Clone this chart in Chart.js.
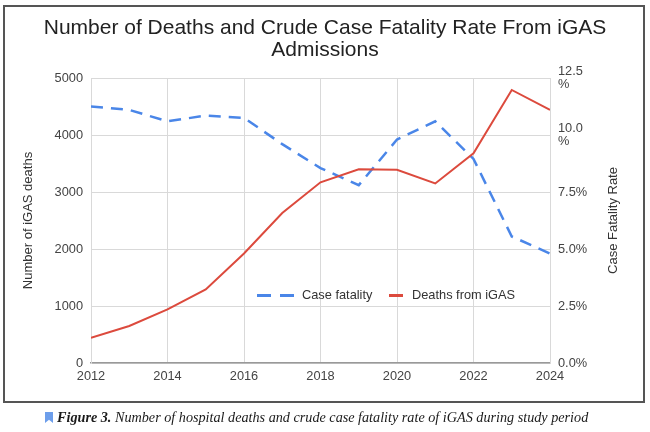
<!DOCTYPE html>
<html>
<head>
<meta charset="utf-8">
<script src="https://cdn.jsdelivr.net/npm/chart.js@4.4.1/dist/chart.umd.min.js"></script>
<style>
  html, body { margin: 0; padding: 0; background: #fff; }
  body { width: 650px; height: 432px; position: relative; overflow: hidden; }
  #wrap { position: absolute; left: 0; top: 0; width: 650px; height: 403px; }
  #frame { position: absolute; left: 3px; top: 5px; width: 638px; height: 394px; border: 2px solid #555; pointer-events: none; }
  #caption { position: absolute; left: 45px; top: 409px; font-family: "Liberation Serif", serif; font-style: italic; font-size: 14.2px; color: #1a1a1a; white-space: nowrap; }
  #caption .mark { display: inline-block; width: 8px; height: 11px; background: #6d9eeb; clip-path: polygon(0 0, 100% 0, 100% 100%, 50% 70%, 0 100%); margin-right: 4px; vertical-align: -1px; }
</style>
</head>
<body>
<div id="wrap"><canvas id="myChart" width="650" height="403"></canvas></div>
<div id="frame"></div>
<div id="caption"><span class="mark"></span><b>Figure 3.</b> Number of hospital deaths and crude case fatality rate of iGAS during study period</div>
<script>
// data
const years = [2012, 2013, 2014, 2015, 2016, 2017, 2018, 2019, 2020, 2021, 2022, 2023, 2024];
const deaths = [440, 650, 940, 1290, 1920, 2630, 3170, 3400, 3390, 3150, 3680, 4790, 4440];
const fatalityRate = [11.25, 11.1, 10.6, 10.85, 10.75, 9.6, 8.55, 7.8, 9.8, 10.6, 8.95, 5.55, 4.8];

// tick labels
const yearTicks = [2012, 2014, 2016, 2018, 2020, 2022, 2024];
const deathTicks = [0, 1000, 2000, 3000, 4000, 5000];
const rateTicks = [0, 2.5, 5, 7.5, 10, 12.5];
const rateTickLabels = ["0.0%", "2.5%", "5.0%", "7.5%", ["10.0", "%"], ["12.5", "%"]];

const FONT = "'Liberation Sans', Arial, sans-serif";
const BLUE = "#4a86e8";
const RED = "#dc4a3d";
const GRID = "#d9d9d9";

// legend inside the plot + right axis title (reads bottom to top)
const extras = {
  id: "extras",
  afterDraw(chart) {
    const ctx = chart.ctx;
    const area = chart.chartArea;
    const y = area.bottom - 67.5;
    let x = area.left + 166;
    ctx.save();
    ctx.lineWidth = 3;
    ctx.strokeStyle = BLUE;
    ctx.beginPath();
    ctx.moveTo(x, y); ctx.lineTo(x + 14, y);
    ctx.moveTo(x + 23, y); ctx.lineTo(x + 37, y);
    ctx.stroke();
    ctx.font = "12.8px " + FONT;
    ctx.fillStyle = "#333";
    ctx.textBaseline = "middle";
    ctx.fillText(chart.data.datasets[1].label, x + 45, y);
    x = area.left + 298;
    ctx.strokeStyle = RED;
    ctx.beginPath();
    ctx.moveTo(x, y); ctx.lineTo(x + 14, y);
    ctx.stroke();
    ctx.fillText(chart.data.datasets[0].label, x + 23, y);

    ctx.translate(613, (area.top + area.bottom) / 2);
    ctx.rotate(-Math.PI / 2);
    ctx.textAlign = "center";
    ctx.font = "13px " + FONT;
    ctx.fillText("Case Fatality Rate", 0, 0);
    ctx.restore();
  }
};

var ctx = document.getElementById("myChart").getContext("2d");
var chart = new Chart(ctx, {
  type: "line",
  data: {
    datasets: [
      {
        label: "Deaths from iGAS",
        data: years.map((yr, i) => ({ x: yr, y: deaths[i] })),
        yAxisID: "y",
        borderColor: RED,
        borderWidth: 2,
        pointRadius: 0,
        tension: 0,
      },
      {
        label: "Case fatality",
        data: years.map((yr, i) => ({ x: yr, y: fatalityRate[i] })),
        yAxisID: "y1",
        borderColor: BLUE,
        borderWidth: 2.5,
        borderDash: [12, 8],
        pointRadius: 0,
        tension: 0,
      },
    ],
  },
  options: {
    responsive: false,
    animation: false,
    devicePixelRatio: 1,
    layout: { padding: 0 },
    plugins: {
      legend: { display: false },
      tooltip: { enabled: false },
      title: {
        display: true,
        text: ["Number of Deaths and Crude Case Fatality Rate From iGAS", "Admissions"],
        color: "#222",
        font: { family: FONT, size: 21, weight: "normal", lineHeight: "22px" },
        padding: { top: 17, bottom: 17 },
      },
    },
    scales: {
      x: {
        type: "linear",
        min: 2012,
        max: 2024,
        afterBuildTicks: (s) => { s.ticks = yearTicks.map((v) => ({ value: v })); },
        afterFit: (s) => { s.height = 40; },
        ticks: { callback: (v) => String(v), color: "#444", font: { family: FONT, size: 12.8 }, padding: 6, maxRotation: 0 },
        grid: { color: GRID, drawTicks: false },
        border: { color: "#999", width: 1.5 },
      },
      y: {
        position: "left",
        min: 0,
        max: 5000,
        afterBuildTicks: (s) => { s.ticks = deathTicks.map((v) => ({ value: v })); },
        afterFit: (s) => { s.width = 91; },
        ticks: { callback: (v) => String(v), color: "#444", font: { family: FONT, size: 12.8, lineHeight: 1 }, padding: 8 },
        grid: { color: GRID, drawTicks: false },
        border: { color: GRID },
        title: { display: true, text: "Number of iGAS deaths", color: "#333", font: { family: FONT, size: 13 }, padding: { top: 21, bottom: 0 } },
      },
      y1: {
        position: "right",
        min: 0,
        max: 12.5,
        afterBuildTicks: (s) => { s.ticks = rateTicks.map((v) => ({ value: v })); },
        afterFit: (s) => { s.width = 100; },
        ticks: {
          callback: (v) => rateTickLabels[rateTicks.indexOf(v)],
          color: "#444",
          font: { family: FONT, size: 12.8, lineHeight: 1 },
          padding: 8,
        },
        grid: { display: false, drawTicks: false },
        border: { color: GRID },
      },
    },
  },
  plugins: [extras],
});
</script>
</body>
</html>
